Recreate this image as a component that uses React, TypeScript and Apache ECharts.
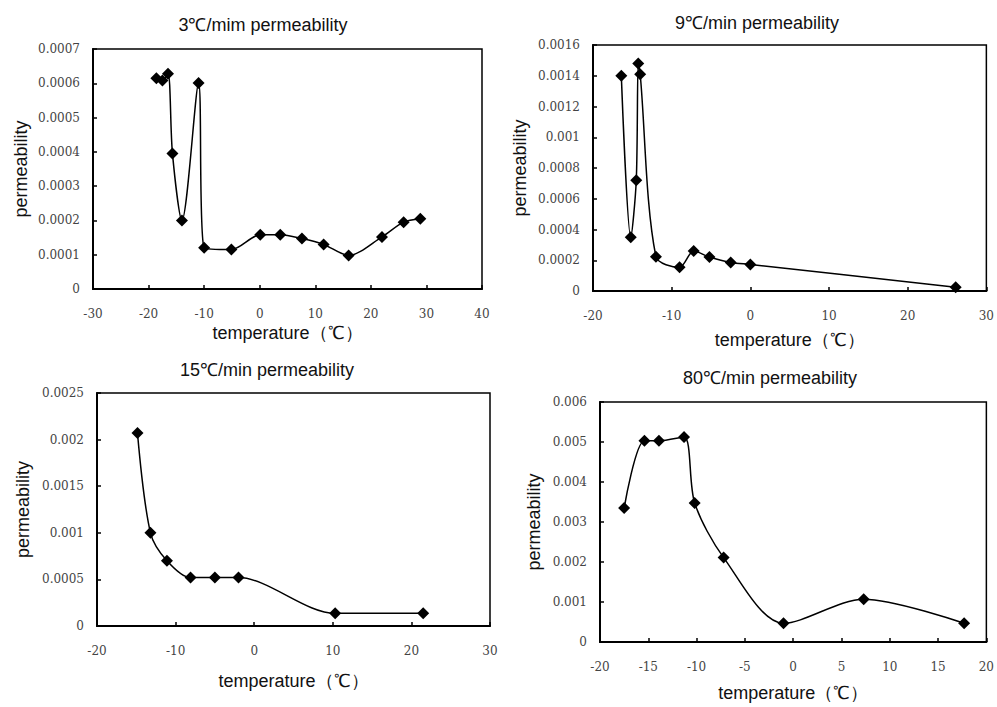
import React, { useEffect, useRef } from "react";
import * as echarts from "echarts";

// Panel 1: 3℃/mim
const temp3 = [-18.6, -17.5, -16.5, -15.7, -14.0, -11.0, -10.0, -5.1, 0.1, 3.7, 7.6, 11.5, 16.0, 22.0, 25.9, 28.9];
const perm3 = [0.000615, 0.000608, 0.000628, 0.000395, 0.0002, 0.000601, 0.00012, 0.000115, 0.000158, 0.000158, 0.000147, 0.00013, 0.000098, 0.000152, 0.000195, 0.000205];

// Panel 2: 9℃/min
const temp9 = [-16.4, -15.2, -14.5, -14.25, -14.0, -12.0, -9.0, -7.2, -5.2, -2.5, 0.0, 26.1];
const perm9 = [0.0014, 0.00035, 0.00072, 0.00148, 0.00141, 0.000223, 0.000154, 0.00026, 0.000221, 0.000186, 0.000173, 0.000024];

// Panel 3: 15℃/min
const temp15 = [-14.85, -13.2, -11.1, -8.1, -5.0, -2.0, 10.3, 21.5];
const perm15 = [0.00207, 0.001, 0.0007, 0.00052, 0.00052, 0.00052, 0.000136, 0.000136];

// Panel 4: 80℃/min
const temp80 = [-17.5, -15.4, -13.9, -11.3, -10.2, -7.2, -1.0, 7.3, 17.7];
const perm80 = [0.00335, 0.00503, 0.00503, 0.005125, 0.003475, 0.00211, 0.000467, 0.00107, 0.000467];

const titles = ["3℃/mim permeability", "9℃/min permeability", "15℃/min permeability", "80℃/min permeability"];
const xName = "temperature（℃）";
const yName = "permeability";

const xMins = [-30, -20, -20, -20];
const xMaxs = [40, 30, 30, 20];
const xIntervals = [10, 10, 10, 5];
const yMaxs = [0.0007, 0.0016, 0.0025, 0.006];
const yIntervals = [0.0001, 0.0002, 0.0005, 0.001];

const SANS = "Liberation Sans";
const SERIF = "DejaVu Serif";

export default function App() {
  const ref = useRef<HTMLDivElement>(null);

  useEffect(() => {
    document.body.style.margin = "0";
    if (!ref.current) return;
    const chart = echarts.init(ref.current, null, { renderer: "svg" });

    const grids = [
      { left: 93, top: 49, width: 389, height: 240 },
      { left: 593, top: 45, width: 394, height: 246 },
      { left: 97, top: 393, width: 393, height: 233 },
      { left: 600, top: 402, width: 392, height: 240 },
    ];
    const titlePos = [
      { x: 258, y: 11 },
      { x: 752, y: 9 },
      { x: 262, y: 356 },
      { x: 765, y: 364 },
    ];
    const xNameGaps = [35, 40, 46, 42];
    const yNameGaps = [63, 64, 65, 57];
    const xs = [temp3, temp9, temp15, temp80];
    const ys = [perm3, perm9, perm15, perm80];

    const option: any = {
      animation: false,
      backgroundColor: "#fff",
      textStyle: { fontFamily: SANS },
      title: titles.map((t, i) => ({
        text: t,
        left: titlePos[i].x,
        top: titlePos[i].y,
        textAlign: "center",
        textStyle: { fontFamily: SANS, fontSize: 18, fontWeight: "normal", color: "#111" },
      })),
      grid: grids.map((g) => ({
        ...g,
        show: true,
        borderColor: "#000",
        borderWidth: 1.5,
        backgroundColor: "transparent",
        containLabel: false,
      })),
      xAxis: grids.map((_, i) => ({
        type: "value",
        gridIndex: i,
        min: xMins[i],
        max: xMaxs[i],
        interval: xIntervals[i],
        name: xName,
        nameLocation: "middle",
        nameGap: xNameGaps[i],
        nameTextStyle: { fontFamily: SANS, fontSize: 18, color: "#111" },
        axisLine: { show: true, onZero: false, lineStyle: { color: "#000", width: 2 } },
        axisTick: { show: true, inside: true, length: 4, lineStyle: { color: "#000", width: 1.5 } },
        axisLabel: { fontFamily: SERIF, fontSize: 12, color: "#444", margin: 19 },
        splitLine: { show: false },
      })),
      yAxis: grids.map((_, i) => ({
        type: "value",
        gridIndex: i,
        min: 0,
        max: yMaxs[i],
        interval: yIntervals[i],
        name: yName,
        nameLocation: "middle",
        nameGap: yNameGaps[i],
        nameTextStyle: { fontFamily: SANS, fontSize: 18, color: "#111" },
        axisLine: { show: true, onZero: false, lineStyle: { color: "#000", width: 2 } },
        axisTick: { show: true, inside: true, length: 4, lineStyle: { color: "#000", width: 1.5 } },
        axisLabel: { fontFamily: SERIF, fontSize: 12, color: "#444", margin: 13 },
        splitLine: { show: false },
      })),
      series: grids.map((_, i) => ({
        type: "line",
        xAxisIndex: i,
        yAxisIndex: i,
        data: xs[i].map((x, k) => [x, ys[i][k]]),
        smooth: 0.3,
        symbol: "diamond",
        symbolSize: 12,
        itemStyle: { color: "#000" },
        lineStyle: { color: "#000", width: 1.5 },
      })),
    };

    chart.setOption(option);
    return () => chart.dispose();
  }, []);

  return <div ref={ref} style={{ width: 997, height: 707 }} />;
}
